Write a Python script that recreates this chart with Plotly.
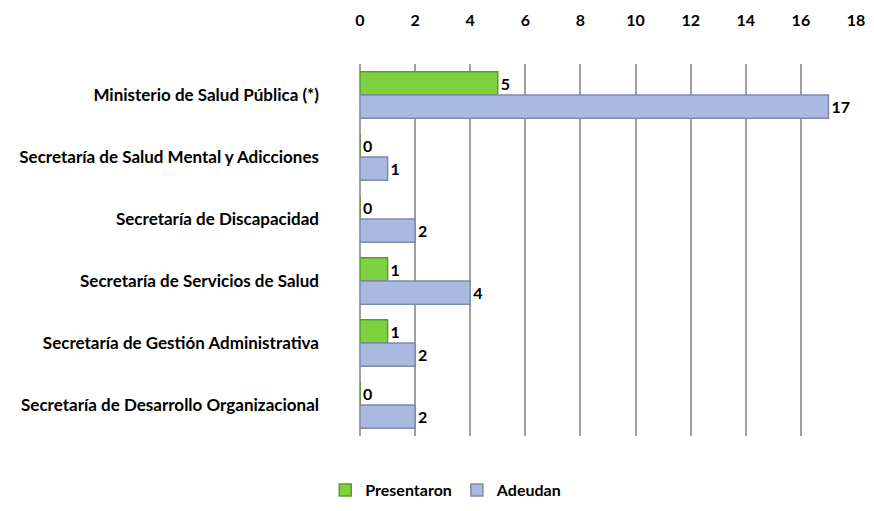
import plotly.graph_objects as go

categories = [
    "Ministerio de Salud Pública (*)",
    "Secretaría de Salud Mental y Adicciones",
    "Secretaría de Discapacidad",
    "Secretaría de Servicios de Salud",
    "Secretaría de Gestión Administrativa",
    "Secretaría de Desarrollo Organizacional",
]
presentaron = [5, 0, 0, 1, 1, 0]
adeudan = [17, 1, 2, 4, 2, 2]
tick_vals = list(range(0, 19, 2))

font_family = "Lato, Open Sans, Liberation Sans, Arial, sans-serif"

fig = go.Figure()
fig.add_trace(go.Bar(
    y=categories, x=presentaron, orientation="h", name="Presentaron",
    marker=dict(color="#7ed13f", line=dict(color="#5a9a2a", width=1.5)),
    text=[str(v) for v in presentaron], textposition="outside",
    textfont=dict(family=font_family, size=16, color="#000", weight="bold"),
    cliponaxis=False,
))
fig.add_trace(go.Bar(
    y=categories, x=adeudan, orientation="h", name="Adeudan",
    marker=dict(color="#aab9df", line=dict(color="#7f8aa6", width=1.5)),
    text=[str(v) for v in adeudan], textposition="outside",
    textfont=dict(family=font_family, size=16, color="#000", weight="bold"),
    cliponaxis=False,
))

fig.update_layout(
    width=874, height=511,
    paper_bgcolor="white", plot_bgcolor="white",
    barmode="group", bargap=0.25, bargroupgap=0.0,
    margin=dict(l=352, r=26, t=56, b=68),
    font=dict(family=font_family, size=16, color="#000"),
    xaxis=dict(
        side="top", range=[0, 18], tickvals=tick_vals,
        showgrid=True, gridcolor="#a0a0a0", gridwidth=2,
        zeroline=True, zerolinecolor="#a0a0a0", zerolinewidth=2,
        tickfont=dict(family=font_family, size=16, color="#000", weight="bold"),
        ticks="", showline=False, ticklabelstandoff=34, automargin=False,
    ),
    yaxis=dict(
        autorange="reversed", showgrid=False, showline=False, ticks="",
        tickfont=dict(family=font_family, size=17, color="#000", weight="bold"),
        ticklabelstandoff=40, automargin=False,
    ),
    legend=dict(
        orientation="h", x=-0.07, y=-0.1, xanchor="left", yanchor="top",
        font=dict(family=font_family, size=16, color="#000", weight="bold"),
        traceorder="normal",
    ),
)

fig.write_html("out.html")
